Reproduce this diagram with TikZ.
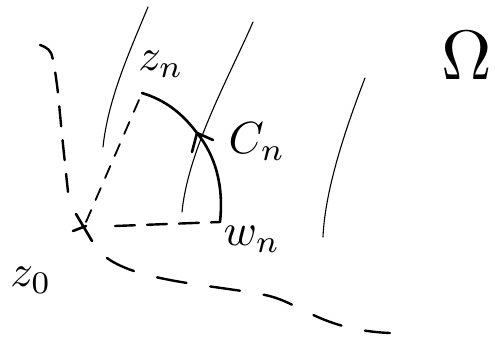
\documentclass[tikz,border=0pt]{standalone}
\usepackage{graphicx}
\usetikzlibrary{arrows.meta}
\begin{document}
\begin{tikzpicture}[x=1pt,y=-1pt,
  thinline/.style={line width=1.1pt, line cap=round},
  thickline/.style={line width=2.6pt, line cap=round, line join=round},
  dashline/.style={line width=2.4pt, line cap=round, dash pattern=on 20pt off 14pt},
  lbl/.style={inner sep=0pt}]
\useasboundingbox (0,0) rectangle (495,339);
% points
\coordinate (z0) at (80,228);
\coordinate (zn) at (142,93);
\coordinate (wn) at (220,222);
\coordinate (mid) at (197,133);
\coordinate (barbL) at (192,152);
\coordinate (barbR) at (213,140);
% boundary strokes
\draw[thinline] (148,7) .. controls (128,55) and (108,100) .. (103,147);
\draw[thinline] (253,22) .. controls (230,75) and (188,150) .. (182,212);
\draw[thinline] (365,78) .. controls (345,130) and (325,190) .. (323,237);
% dashed curves
\draw[dashline] plot[smooth] coordinates {(40,45) (51,53) (57,85) (62,135) (68,192)};
\draw[dashline, dash pattern=on 30pt off 24pt] (107,258) .. controls (140,282) and (215,285) .. (265,295) .. controls (300,302) and (320,330) .. (390,333);
\draw[dashline, dash pattern=on 20pt off 12pt] (115,226) -- (wn);
\draw[line width=1.8pt, line cap=round, dash pattern=on 13pt off 11pt] (86,222) -- (zn);
% arc C_n
\draw[thickline] (wn) .. controls (224,185) and (215,155) .. (mid) .. controls (182,113) and (165,100) .. (zn);
\draw[thickline] (barbL) -- (mid) -- (barbR);
% z0 mark
\draw[thickline] (76,214) -- (92,241);
\draw[thickline] (73,231) -- (86,226);
% labels
\node[lbl] (lzn) at (161,64) {\scalebox{4.5}{$z_n$}};
\node[lbl] (lcn) at (257,142) {\scalebox{4.5}{$C_n$}};
\node[lbl] (lwn) at (252,239) {\scalebox{4.5}{$w_n$}};
\node[lbl] (lz0) at (31,280) {\scalebox{4.5}{$z_0$}};
\node[lbl] (lom) at (467,56) {\scalebox{7}{$\Omega$}};
\end{tikzpicture}
\end{document}
